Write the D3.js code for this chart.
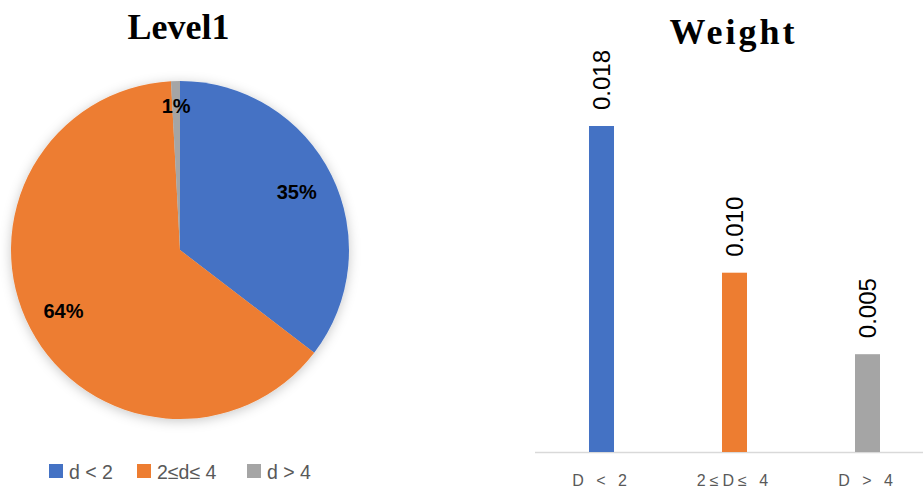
<!DOCTYPE html>
<html><head><meta charset="utf-8">
<script src="https://cdn.jsdelivr.net/npm/d3@7"></script>
<style>
html,body{margin:0;padding:0;background:#fff;}
svg{display:block;}
</style>
</head><body>
<svg id="chart" width="923" height="492"></svg>
<script>
// ---- data ----
const pieCategories = ["d < 2", "2≤d≤ 4", "d > 4"];
const pieValues = [35.4, 63.75, 0.85];
const pieTitle = "Level1";
const barCategories = ["D < 2", "2≤D≤ 4", "D > 4"];
const barValues = [0.0180, 0.0099, 0.0054];
const barTitle = "Weight";
const colors = ["#4472C4", "#ED7D31", "#A5A5A5"];

const svg = d3.select("#chart");
const defs = svg.append("defs");
const f = defs.append("filter").attr("id","shadow").attr("x","-20%").attr("y","-20%").attr("width","140%").attr("height","140%");
f.append("feDropShadow").attr("dx",0).attr("dy",2).attr("stdDeviation",6).attr("flood-color","#000").attr("flood-opacity",0.22);

// ---- pie ----
const cx = 180, cy = 250, R = 169;
svg.append("text").attr("x",178.5).attr("y",39).attr("text-anchor","middle")
  .style("font-family","'Liberation Serif','Times New Roman',serif").style("font-weight","bold")
  .style("font-size","36px").attr("fill","#000").text(pieTitle);

const pieGen = d3.pie().sort(null).value(d=>d);
const arcs = pieGen(pieValues);
const arc = d3.arc().innerRadius(0).outerRadius(R);
const gPie = svg.append("g").attr("transform",`translate(${cx},${cy})`);
gPie.append("g").attr("filter","url(#shadow)").selectAll("path").data(arcs).join("path")
  .attr("d",arc).attr("fill",(d,i)=>colors[i]);
const total = d3.sum(pieValues);
const labelFactor = [0.77, 0.78, 0.85];
gPie.selectAll("text.pl").data(arcs).join("text").attr("class","pl")
  .attr("transform",(d,i)=>{
    const a = (d.startAngle+d.endAngle)/2, r = R*labelFactor[i];
    return `translate(${r*Math.sin(a)},${-r*Math.cos(a)})`;
  })
  .attr("text-anchor","middle").attr("dy","0.35em")
  .style("font-family","'Liberation Sans',Arial,sans-serif").style("font-weight","bold").style("font-size","20px")
  .attr("fill","#000")
  .text(d=>Math.round(d.value/total*100)+"%");

// legend
const legX = [49, 137, 247];
const leg = svg.append("g");
pieCategories.forEach((c,i)=>{
  leg.append("rect").attr("x",legX[i]).attr("y",464).attr("width",14).attr("height",14).attr("fill",colors[i]);
  leg.append("text").attr("x",legX[i]+20).attr("y",478.5)
    .style("font-family","'Liberation Sans',Arial,sans-serif").style("font-size","19.5px").attr("fill","#595959").text(c);
});

// ---- bars ----
svg.append("text").attr("x",733.5).attr("y",44).attr("text-anchor","middle")
  .style("font-family","'Liberation Serif','Times New Roman',serif").style("font-weight","bold")
  .style("font-size","36px").style("letter-spacing","3px").attr("fill","#000").text(barTitle);

const x = d3.scaleBand().domain(barCategories).range([535, 934]).paddingInner(0.812).paddingOuter(0.406);
const y = d3.scaleLinear().domain([0, 0.0180]).range([452, 126]);

svg.append("line").attr("x1",535).attr("x2",923).attr("y1",452.5).attr("y2",452.5).attr("stroke","#d9d9d9").attr("stroke-width",1.5);

svg.selectAll("rect.bar").data(barValues).join("rect").attr("class","bar")
  .attr("x",(d,i)=>x(barCategories[i])).attr("width",x.bandwidth())
  .attr("y",d=>y(d)).attr("height",d=>452-y(d)).attr("fill",(d,i)=>colors[i]);

svg.selectAll("text.bv").data(barValues).join("text").attr("class","bv")
  .attr("transform",(d,i)=>`translate(${x(barCategories[i])+x.bandwidth()/2},${y(d)-16}) rotate(-90)`)
  .attr("dy","0.35em").attr("text-anchor","start")
  .style("font-family","'Liberation Sans',Arial,sans-serif").style("font-size","24px").attr("fill","#000")
  .text(d=>d3.format(".3f")(d));

svg.selectAll("text.bc").data(barCategories).join("text").attr("class","bc")
  .attr("x",d=>x(d)+x.bandwidth()/2).attr("y",486).attr("text-anchor","middle")
  .style("font-family","'Liberation Sans',Arial,sans-serif").style("font-size","16px").style("letter-spacing","4px")
  .attr("fill","#595959").text(d=>d);
</script>
</body></html>
